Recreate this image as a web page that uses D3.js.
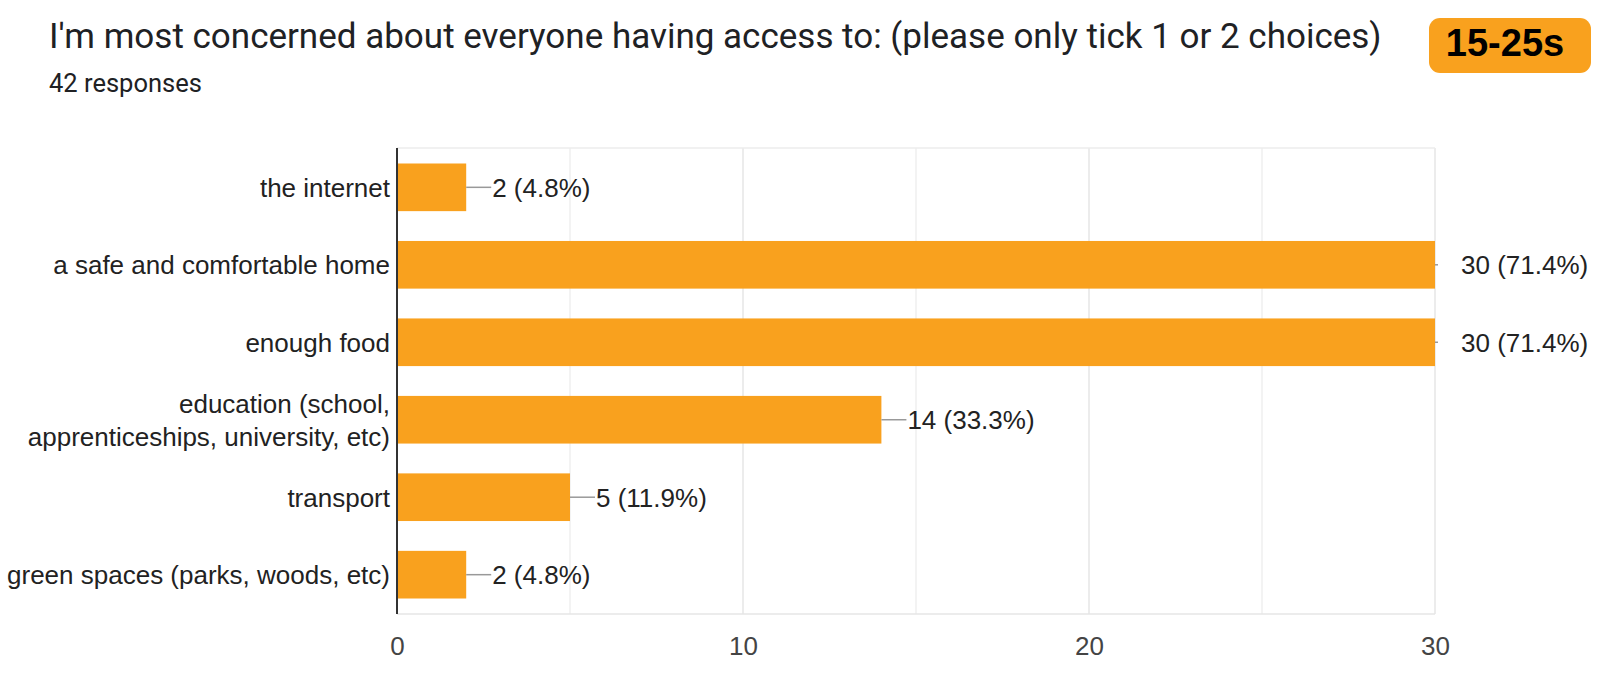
<!DOCTYPE html>
<html>
<head>
<meta charset="utf-8">
<script src="https://cdn.jsdelivr.net/npm/d3@7"></script>
<style>
  body { margin: 0; background: #fff; overflow: hidden; }
  svg { display: block; }
  text { font-family: "Liberation Sans", Arial, sans-serif; }
</style>
</head>
<body>
<svg class="chart"></svg>
<script>
var categories = ['the internet',
                  'a safe and comfortable home',
                  'enough food',
                  'education (school,|apprenticeships, university, etc)',
                  'transport',
                  'green spaces (parks, woods, etc)'];
var counts  = [2, 30, 30, 14, 5, 2];
var percents = ['4.8%', '71.4%', '71.4%', '33.3%', '11.9%', '4.8%'];
var majorTicks = [0, 10, 20, 30];
var minorTicks = [5, 15, 25];

var width  = 1600;
var height = 680;
var margin = {top: 148, right: 165, bottom: 66, left: 397};

var svg = d3.select('.chart')
    .attr('width', width)
    .attr('height', height);

// header
svg.append('text')
    .attr('x', 49).attr('y', 48)
    .style('font-family', 'Roboto, sans-serif')
    .attr('font-size', 35)
    .attr('fill', '#202124')
    .text("I'm most concerned about everyone having access to: (please only tick 1 or 2 choices)");
svg.append('text')
    .attr('x', 49).attr('y', 92)
    .style('font-family', 'Roboto, sans-serif')
    .attr('font-size', 25.5)
    .attr('fill', '#202124')
    .text('42 responses');

svg.append('rect')
    .attr('x', 1429).attr('y', 18)
    .attr('width', 162).attr('height', 55)
    .attr('rx', 11)
    .attr('fill', '#f9a11e');
svg.append('text')
    .attr('x', 1505).attr('y', 56)
    .attr('text-anchor', 'middle')
    .attr('font-size', 38)
    .attr('font-weight', 'bold')
    .attr('fill', '#000')
    .text('15-25s');

var x = d3.scaleLinear()
    .domain([0, 30])
    .range([margin.left, width - margin.right]);

var y = d3.scaleBand()
    .domain(categories)
    .range([margin.top, height - margin.bottom])
    .paddingInner(0.385)
    .paddingOuter(0.2);

var g = svg.append('g');

// gridlines
g.selectAll('line.grid')
    .data(minorTicks.concat(majorTicks.slice(1)))
  .enter().append('line')
    .attr('class', 'grid')
    .attr('x1', function(d) { return x(d); })
    .attr('x2', function(d) { return x(d); })
    .attr('y1', margin.top)
    .attr('y2', height - margin.bottom)
    .attr('stroke', function(d) { return d % 10 === 0 ? '#e6e6e6' : '#efefef'; })
    .attr('stroke-width', 1.5);
g.append('line')
    .attr('x1', margin.left).attr('x2', x(30))
    .attr('y1', margin.top).attr('y2', margin.top)
    .attr('stroke', '#ececec').attr('stroke-width', 1.5);
g.append('line')
    .attr('x1', margin.left).attr('x2', x(30))
    .attr('y1', height - margin.bottom).attr('y2', height - margin.bottom)
    .attr('stroke', '#e6e6e6').attr('stroke-width', 1.5);

// bars
var rows = categories.map(function(c, i) { return {cat: c, n: counts[i], pct: percents[i]}; });

g.selectAll('rect.bar')
    .data(rows)
  .enter().append('rect')
    .attr('class', 'bar')
    .attr('x', x(0))
    .attr('y', function(d) { return y(d.cat); })
    .attr('width', function(d) { return x(d.n) - x(0); })
    .attr('height', y.bandwidth())
    .attr('fill', '#f9a11e');

// leader lines + value labels
function mid(d) { return y(d.cat) + y.bandwidth() / 2; }
g.selectAll('line.lead')
    .data(rows)
  .enter().append('line')
    .attr('class', 'lead')
    .attr('x1', function(d) { return x(d.n); })
    .attr('x2', function(d) { return d.n === 30 ? x(d.n) + 3 : x(d.n) + 25; })
    .attr('y1', mid)
    .attr('y2', mid)
    .attr('stroke', '#999')
    .attr('stroke-width', 1.5);
g.selectAll('text.val')
    .data(rows)
  .enter().append('text')
    .attr('class', 'val')
    .attr('x', function(d) { return x(d.n) + 26; })
    .attr('y', mid)
    .attr('dy', '0.36em')
    .attr('font-size', 26)
    .attr('fill', '#222')
    .text(function(d) { return d.n + ' (' + d.pct + ')'; });

// category labels
g.selectAll('text.cat')
    .data(rows)
  .enter().append('text')
    .attr('class', 'cat')
    .attr('text-anchor', 'end')
    .attr('font-size', 26)
    .attr('fill', '#222')
    .each(function(d) {
        var parts = d.cat.split('|');
        var t = d3.select(this);
        parts.forEach(function(p, k) {
            t.append('tspan')
                .attr('x', margin.left - 7)
                .attr('y', mid(d) + (k - (parts.length - 1) / 2) * 33)
                .attr('dy', '0.36em')
                .text(p);
        });
    });

// y axis line
g.append('line')
    .attr('x1', margin.left).attr('x2', margin.left)
    .attr('y1', margin.top).attr('y2', height - margin.bottom)
    .attr('stroke', '#333').attr('stroke-width', 2);

// x axis ticks
var xAxis = d3.axisBottom(x).tickValues(majorTicks).tickSize(0).tickPadding(23);
var ax = svg.append('g')
    .attr('transform', 'translate(0,' + (height - margin.bottom) + ')')
    .call(xAxis);
ax.select('.domain').remove();
ax.selectAll('text')
    .attr('font-size', 26)
    .attr('fill', '#444')
    .style('font-family', '"Liberation Sans", Arial, sans-serif');
</script>
</body>
</html>
